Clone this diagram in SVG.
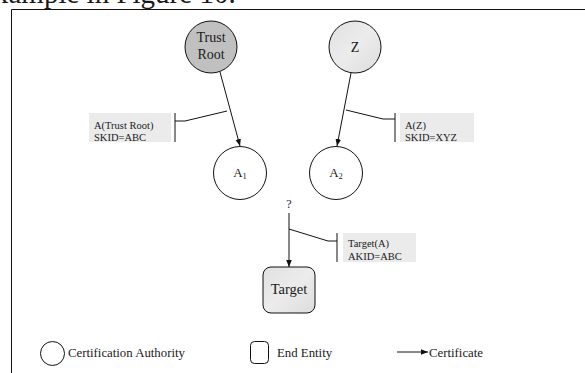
<svg xmlns="http://www.w3.org/2000/svg" width="585" height="373" viewBox="0 0 585 373">
<defs>
<style>
text{font-family:"Liberation Serif","Times New Roman",serif;fill:#1a1a1a}
.node{stroke:#111;stroke-width:1}
.conn{stroke:#111;stroke-width:1;fill:none}
.lbl{fill:#ebebeb;stroke:none}
.lt{font-size:10.5px}
.nt{font-size:14px;text-anchor:middle}
.leg{font-size:12.8px}
</style>
<marker id="ah" viewBox="0 0 10 10" refX="10" refY="5" markerWidth="7" markerHeight="7" markerUnits="userSpaceOnUse" orient="auto">
<path d="M0,1 L10,5 L0,9 Z" fill="#111"/>
</marker>
<linearGradient id="g1" x1="0" y1="0" x2="1" y2="1">
<stop offset="0" stop-color="#e0e0e0"/><stop offset="0.5" stop-color="#ececec"/><stop offset="1" stop-color="#dcdcdc"/>
</linearGradient>
</defs>
<rect width="585" height="373" fill="#fff"/>
<text x="-6" y="3" style="font-size:29px">xample in Figure 10.</text>
<path d="M11.5,373 V9.5 H585" class="conn"/>

<g id="trust-root">
<circle cx="211" cy="47" r="26" fill="#c0c0c0" class="node"/>
<text x="211" y="42" class="nt">Trust</text>
<text x="211" y="59" class="nt">Root</text>
</g>
<g id="z">
<circle cx="355" cy="47" r="26" fill="url(#g1)" class="node"/>
<text x="355" y="52" class="nt">Z</text>
</g>
<g id="a1">
<circle cx="240" cy="173" r="26.5" fill="#fff" class="node"/>
<text x="240" y="177" class="nt" style="font-size:13px">A<tspan font-size="8.5" dy="2">1</tspan></text>
</g>
<g id="a2">
<circle cx="336" cy="173" r="26.5" fill="#fff" class="node"/>
<text x="336" y="177" class="nt" style="font-size:13px">A<tspan font-size="8.5" dy="2">2</tspan></text>
</g>
<g id="target">
<rect x="263" y="267" width="52" height="46" rx="8" fill="url(#g1)" class="node"/>
<text x="289" y="294" class="nt" style="font-size:14.5px">Target</text>
</g>
<g id="question">
<text x="289" y="208" class="nt" style="font-size:12px">?</text>
</g>

<g id="label-trust">
<rect x="89" y="113" width="82" height="29" class="lbl"/>
<text x="94" y="129" class="lt">A(Trust Root)</text>
<text x="94" y="141" class="lt">SKID=ABC</text>
</g>
<g id="label-z">
<rect x="400" y="113" width="74" height="29" class="lbl"/>
<text x="405" y="129" class="lt">A(Z)</text>
<text x="405" y="141" class="lt">SKID=XYZ</text>
</g>
<g id="label-target">
<rect x="343" y="233" width="73" height="29" class="lbl"/>
<text x="348" y="247" class="lt">Target(A)</text>
<text x="348" y="260" class="lt">AKID=ABC</text>
</g>

<g id="connectors">
<line x1="220" y1="72" x2="240" y2="146" class="conn" marker-end="url(#ah)"/>
<line x1="351" y1="73" x2="337" y2="146" class="conn" marker-end="url(#ah)"/>
<line x1="289" y1="213" x2="289" y2="267" class="conn" marker-end="url(#ah)"/>
<path d="M175,113 V142 M175,121 H185 L227,111" class="conn"/>
<path d="M395,113 V142 M395,119 H383 L346,110" class="conn"/>
<path d="M337,233 V262 M337,241 H328 L289,229" class="conn"/>
</g>

<g id="legend">
<circle cx="52.5" cy="353.5" r="12" fill="#fff" class="node"/>
<text x="68" y="357" class="leg">Certification Authority</text>
<rect x="250.5" y="341.5" width="18" height="22" rx="4" fill="#fff" class="node"/>
<text x="277" y="357" class="leg">End Entity</text>
<line x1="397" y1="352" x2="428" y2="352" class="conn" marker-end="url(#ah)"/>
<text x="429" y="357" class="leg">Certificate</text>
</g>
</svg>
